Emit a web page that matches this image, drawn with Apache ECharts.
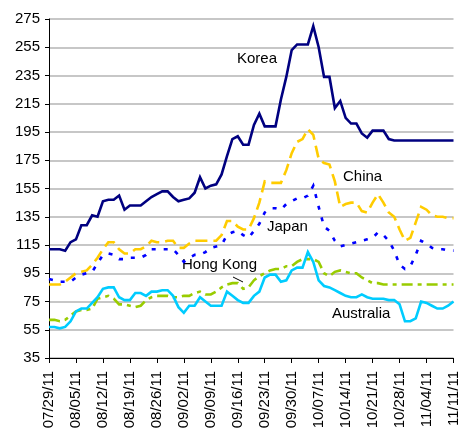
<!DOCTYPE html>
<html>
<head>
<meta charset="utf-8">
<script src="https://cdn.jsdelivr.net/npm/echarts@6/dist/echarts.min.js"></script>
<style>
html,body{margin:0;padding:0;background:#fff;}
#chart{width:461px;height:436px;}
</style>
</head>
<body>
<div id="chart"></div>
<script>
// Category axis: business days from 07/29/11 to 11/11/11
const startDate = [2011, 6, 29];
const endDate = [2011, 10, 11];
function buildDates() {
  const out = [];
  const d = new Date(startDate[0], startDate[1], startDate[2]);
  const e = new Date(endDate[0], endDate[1], endDate[2]);
  while (d <= e) {
    const wd = d.getDay();
    if (wd !== 0 && wd !== 6) {
      const mm = String(d.getMonth() + 1).padStart(2, '0');
      const dd = String(d.getDate()).padStart(2, '0');
      const yy = String(d.getFullYear()).slice(2);
      out.push(mm + '/' + dd + '/' + yy);
    }
    d.setDate(d.getDate() + 1);
  }
  return out;
}
const categories = buildDates();

const korea = [112,112,112,111,117,119,129,129,136,135,146,147,147,150,140,143,143,143,146,149,151,153,153,149,146,147,148,152,163,155,157,158,165,178,190,192,186,186,200,208,199,199,199,218,234,253,257,257,257,270,255,234,234,212,217,205,201,201,194,191,196,196,196,190,189,189,189,189,189,189,189,189,189,189,189,189];
const china = [87,87,87,89,92,95,96,97,101,106,112,117,117,112,109,109,112,112,114,118,117,117,118,118,113,113,116,118,118,118,118,118,122,132,132,128,126,126,134,145,160,159,159,159,168,180,188,190,197,193,176,173,172,160,142,144,145,145,139,138,145,151,145,138,135,126,118,120,131,142,140,136,135,135,134,134];
const japan = [91,90,89,89,89,92,94,95,96,102,108,109,108,105,105,106,106,106,108,112,112,112,112,112,108,103,106,108,108,110,113,114,115,122,124,125,122,120,125,130,138,141,141,140,144,146,148,148,150,157,142,128,125,118,114,115,116,117,118,119,120,124,122,118,111,101,98,100,108,118,116,113,112,112,111,111];
const hongKong = [62,62,61,62,65,68,69,69,70,77,78,79,77,73,73,72,71,72,76,78,79,79,79,78,78,79,79,81,82,80,80,82,85,87,88,88,84,85,90,93,95,97,98,98,100,100,103,105,105,105,103,95,93,96,97,96,95,95,92,90,88,88,87,87,87,87,87,87,87,87,87,87,87,87,87,87];
const australia = [57,57,56,57,61,68,70,70,74,78,84,85,85,78,76,76,81,81,79,82,82,83,83,79,71,67,72,72,78,75,72,72,72,82,79,76,74,74,79,82,92,94,94,89,90,97,99,99,110,103,90,86,85,83,81,79,78,78,80,78,77,77,77,76,76,73,61,61,63,75,74,72,70,70,72,75];

const yTicks = {min: 35, max: 275, step: 20};
const seriesNames = ['Korea', 'China', 'Japan', 'Hong Kong', 'Australia'];

const FONT = 'Arial, "Liberation Sans", sans-serif';
const chart = echarts.init(document.getElementById('chart'), null, {renderer: 'canvas'});

function line(name, data, color, type) {
  return {
    name: name, type: 'line', data: data, symbol: 'none', smooth: false,
    animation: false,
    lineStyle: {color: color, width: 2.6, type: type, cap: 'butt', join: 'miter'},
    itemStyle: {color: color}
  };
}

chart.setOption({
  backgroundColor: '#ffffff',
  animation: false,
  grid: {left: 49, top: 19, right: 4, bottom: 78, containLabel: false},
  xAxis: {
    type: 'category',
    data: categories,
    boundaryGap: false,
    axisLine: {lineStyle: {color: '#000', width: 1}},
    axisTick: {show: true, interval: 4, length: 5, lineStyle: {color: '#000'}},
    axisLabel: {interval: 4, rotate: 90, margin: 13, fontSize: 15, color: '#000', fontFamily: FONT},
    splitLine: {show: false}
  },
  yAxis: {
    type: 'value',
    min: yTicks.min, max: yTicks.max, interval: yTicks.step,
    axisLine: {show: true, lineStyle: {color: '#000', width: 1}},
    axisTick: {show: true, length: 4, lineStyle: {color: '#000'}},
    axisLabel: {margin: 9, fontSize: 15, color: '#000', fontFamily: FONT},
    splitLine: {show: true, lineStyle: {color: '#b4b4b4', width: 1.5}}
  },
  series: [
    line(seriesNames[0], korea, '#000080', 'solid'),
    line(seriesNames[1], china, '#FFCC00', [12, 6]),
    line(seriesNames[2], japan, '#0000FF', [4, 8]),
    line(seriesNames[3], hongKong, '#99CC00', [11, 5, 4, 5]),
    line(seriesNames[4], australia, '#00CCFF', 'solid')
  ],
  graphic: [
    {type: 'text', left: 237, top: 51, style: {text: seriesNames[0], fontSize: 15, fill: '#000', fontFamily: FONT}},
    {type: 'text', left: 343, top: 169, style: {text: seriesNames[1], fontSize: 15, fill: '#000', fontFamily: FONT}},
    {type: 'text', left: 267, top: 219, style: {text: seriesNames[2], fontSize: 15, fill: '#000', fontFamily: FONT}},
    {type: 'text', left: 182, top: 257, style: {text: seriesNames[3], fontSize: 15, fill: '#000', fontFamily: FONT}},
    {type: 'text', left: 332, top: 306, style: {text: seriesNames[4], fontSize: 15, fill: '#000', fontFamily: FONT}},
    {type: 'line', shape: {x1: 233, y1: 277, x2: 243, y2: 282}, style: {stroke: '#000', lineWidth: 1}}
  ]
});
</script>
</body>
</html>
